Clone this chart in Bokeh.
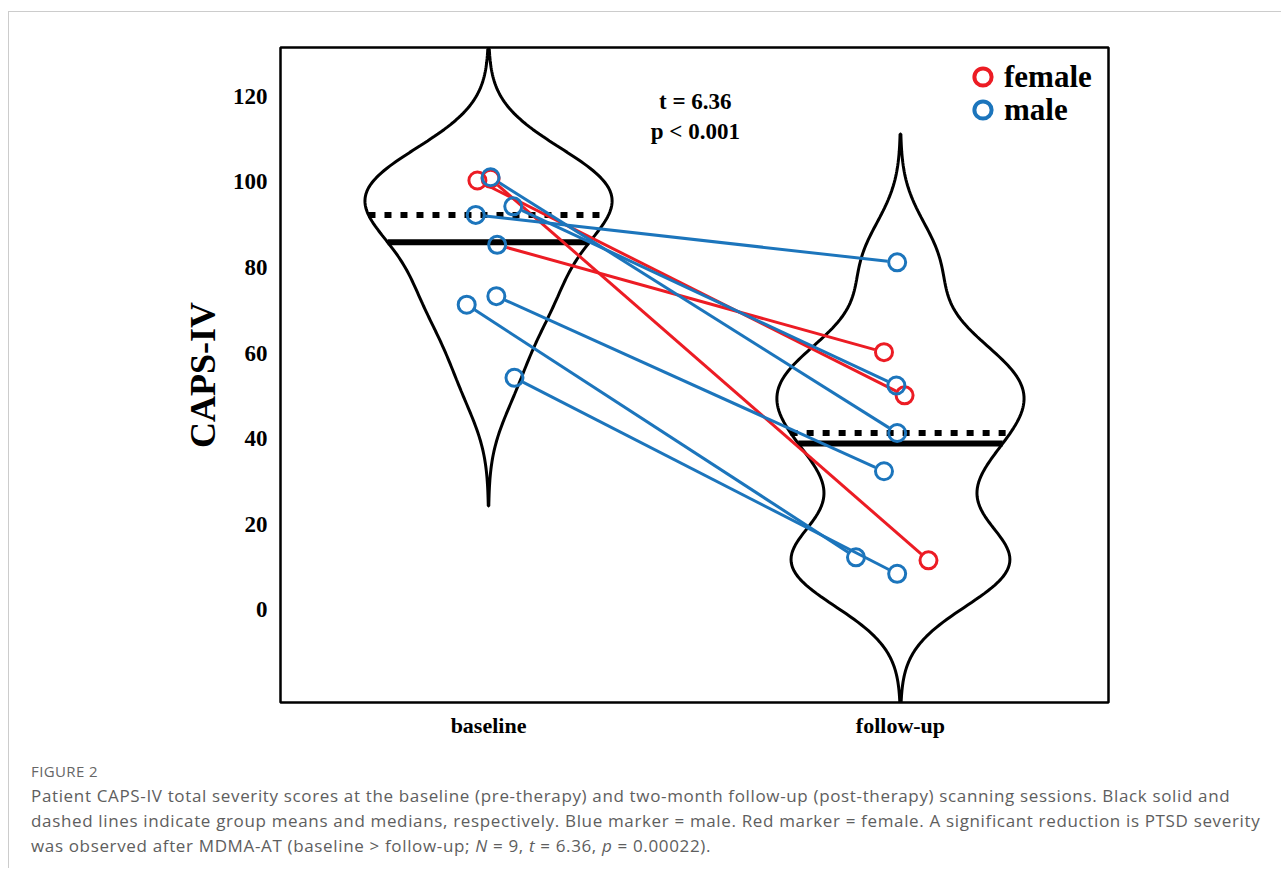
import numpy as np
from bokeh.plotting import figure
from bokeh.models import Range1d, FixedTicker, Legend, LegendItem, Label, Div, ColumnDataSource
from bokeh.layouts import column
from bokeh.embed import file_html
from bokeh.resources import INLINE

# ---------------- data ----------------
categories = ["baseline", "follow-up"]
category_pos = [1, 2]
subject_sex = ["female", "female", "female", "male", "male", "male", "male", "male", "male"]
baseline_marker_sex = ["female", "female", "male", "male", "male", "male", "male", "male", "male"]
baseline_scores = [100.35, 100.75, 85.3, 101.1, 94.3, 92.3, 73.3, 71.3, 54.2]
followup_scores = [50.1, 11.5, 60.2, 41.3, 52.4, 81.2, 32.35, 12.2, 8.35]
baseline_jitter = [-0.027, 0.005, 0.021, 0.005, 0.060, -0.031, 0.019, -0.053, 0.063]
followup_jitter = [0.010, 0.068, -0.040, -0.008, -0.010, -0.008, -0.040, -0.108, -0.008]
y_ticks = [0, 20, 40, 60, 80, 100, 120]
stat_lines = ["t = 6.36", "p < 0.001"]
legend_labels = ["female", "male"]
caption_title = "FIGURE 2"
caption_lines = [
    "Patient CAPS-IV total severity scores at the baseline (pre-therapy) and two-month follow-up (post-therapy) scanning sessions. Black solid and",
    "dashed lines indicate group means and medians, respectively. Blue marker = male. Red marker = female. A significant reduction is PTSD severity",
    "was observed after MDMA-AT (baseline &gt; follow-up; <i>N</i> = 9, <i>t</i> = 6.36, <i>p</i> = 0.00022).",
]

# ---------------- styling / layout ----------------
RED = "#EC1C24"
BLUE = "#1C75BC"
SEX_COLOR = {"female": RED, "male": BLUE}
SERIF = "Liberation Serif"
X0, X1 = 0.495, 2.505
Y0, Y1 = -21.75, 131.46
FW, FH = 828, 655
FIG_W, FIG_H = 1262, 738
LB, TB = 271, 35
KDE_BW = 10.0
MAX_HALF = 0.3
MARKER_SIZE = 17
TRIM_PX = 9.5

p = figure(width=FIG_W, height=FIG_H, x_range=Range1d(X0, X1), y_range=Range1d(Y0, Y1),
           output_backend="svg", toolbar_location=None,
           min_border_left=LB, min_border_right=FIG_W - LB - FW,
           min_border_top=TB, min_border_bottom=FIG_H - TB - FH)
p.grid.visible = False
p.outline_line_color = "black"
p.outline_line_width = 2.5
p.background_fill_color = "white"
p.border_fill_color = "white"

for ax in (p.xaxis[0], p.yaxis[0]):
    ax.axis_line_color = None
    ax.major_tick_line_color = None
    ax.minor_tick_line_color = None
    ax.major_tick_in = 0
    ax.major_tick_out = 0
    ax.major_label_text_font = SERIF
    ax.major_label_text_font_style = "bold"
    ax.major_label_text_color = "black"

p.yaxis.ticker = FixedTicker(ticks=y_ticks)
p.yaxis.major_label_text_font_size = "23px"
p.yaxis.major_label_standoff = 13
p.yaxis.axis_label = "CAPS-IV"
p.yaxis.axis_label_text_font = SERIF
p.yaxis.axis_label_text_font_style = "bold"
p.yaxis.axis_label_text_font_size = "36px"
p.yaxis.axis_label_text_color = "black"
p.yaxis.axis_label_standoff = 7

p.xaxis.ticker = FixedTicker(ticks=category_pos)
p.xaxis.major_label_overrides = {pos: name for pos, name in zip(category_pos, categories)}
p.xaxis.major_label_text_font_size = "22px"
p.xaxis.major_label_standoff = 10

# ---------------- violins (gaussian KDE of each session) ----------------
def kde_profile(vals, bw=KDE_BW, n=200):
    v = np.asarray(vals, dtype=float)
    grid = np.linspace(v.min() - 3 * bw, v.max() + 3 * bw, n)
    dens = np.exp(-0.5 * ((grid[:, None] - v[None, :]) / bw) ** 2).sum(axis=1)
    return grid, dens / dens.max() * MAX_HALF

for c, vals in zip(category_pos, [baseline_scores, followup_scores]):
    grid, half = kde_profile(vals)
    xs = np.concatenate([c + half, (c - half)[::-1]])
    ys = np.concatenate([grid, grid[::-1]])
    p.patch(xs, ys, fill_color=None, line_color="black", line_width=3)
    mean = float(np.mean(vals))
    med = float(np.median(vals))
    hw_mean = float(np.interp(mean, grid, half))
    hw_med = float(np.interp(med, grid, half))
    p.segment(x0=[c - hw_mean], x1=[c + hw_mean], y0=[mean], y1=[mean],
              line_color="black", line_width=6, line_cap="butt")
    p.segment(x0=[c - hw_med], x1=[c + hw_med], y0=[med], y1=[med],
              line_color="black", line_width=6, line_dash="7 9", line_cap="butt")

# ---------------- connecting lines (trimmed at marker edges) ----------------
sx = FW / (X1 - X0)
sy = FH / (Y1 - Y0)
bx = np.array(category_pos[0]) + np.array(baseline_jitter)
fx = np.array(category_pos[1]) + np.array(followup_jitter)
by = np.array(baseline_scores)
fy = np.array(followup_scores)
L = np.hypot((fx - bx) * sx, (fy - by) * sy)
t = TRIM_PX / L
seg = dict(x0=bx + (fx - bx) * t, y0=by + (fy - by) * t,
           x1=fx - (fx - bx) * t, y1=fy - (fy - by) * t)

for s in ["female", "male"]:
    idx = [i for i, g in enumerate(subject_sex) if g == s]
    src = ColumnDataSource({k: v[idx] for k, v in seg.items()})
    p.segment(x0="x0", y0="y0", x1="x1", y1="y1", source=src,
              line_color=SEX_COLOR[s], line_width=3)

# ---------------- markers ----------------
for s in ["female", "male"]:
    xs, ys = [], []
    for i in range(len(subject_sex)):
        if baseline_marker_sex[i] == s:
            xs.append(bx[i]); ys.append(by[i])
        if subject_sex[i] == s:
            xs.append(fx[i]); ys.append(fy[i])
    p.scatter(xs, ys, marker="circle", size=MARKER_SIZE, fill_color=None,
              line_color=SEX_COLOR[s], line_width=3)

# legend keys (a single undrawable NaN point; shown only in the legend, with a heavier ring)
legend_keys = {}
for s in legend_labels:
    legend_keys[s] = p.scatter(x=np.array([np.nan]), y=np.array([np.nan]), marker="circle",
                               fill_color=None, line_color=SEX_COLOR[s], line_width=4)

# one legend box per entry so the rows can sit close together
GLYPH_W, GLYPH_H = 43, 43
legend_rows_from_bottom = [625, 592]   # row centres, px above the frame bottom
for lab, yc in zip(legend_labels, legend_rows_from_bottom):
    lg = Legend(items=[LegendItem(label=lab, renderers=[legend_keys[lab]])],
                location=(681, yc - GLYPH_H // 2), border_line_color=None, background_fill_alpha=0,
                label_text_font=SERIF, label_text_font_style="bold", label_text_font_size="31px",
                label_text_color="black", glyph_width=GLYPH_W, glyph_height=GLYPH_H, spacing=0,
                label_standoff=0, padding=0, margin=0)
    p.add_layout(lg)

# ---------------- statistics text ----------------
for txt, yv in zip(stat_lines, [118.8, 111.8]):
    p.add_layout(Label(x=1.502, y=yv, text=txt, text_align="center", text_baseline="middle",
                       text_font=SERIF, text_font_style="bold", text_font_size="23px",
                       text_color="black"))

# ---------------- caption ----------------
cap_html = (
    "<div style=\"font-family:'Open Sans',sans-serif;color:#5e5e5e;padding-left:17px;padding-top:4px;white-space:nowrap;\">"
    f"<div style=\"font-size:15px;letter-spacing:0.4px;line-height:24px;color:#666;\">{caption_title}</div>"
    f"<div style=\"font-size:17px;letter-spacing:0.65px;line-height:25px;\">{'<br>'.join(caption_lines)}</div>"
    "</div>"
)
cap = Div(text=cap_html, width=FIG_W, height=108)

layout = column(p, cap, margin=(11, 0, 0, 8),
                styles={"border-top": "1px solid #cccccc", "border-left": "1px solid #cccccc"})
open("out.html", "w").write(file_html(layout, INLINE))
